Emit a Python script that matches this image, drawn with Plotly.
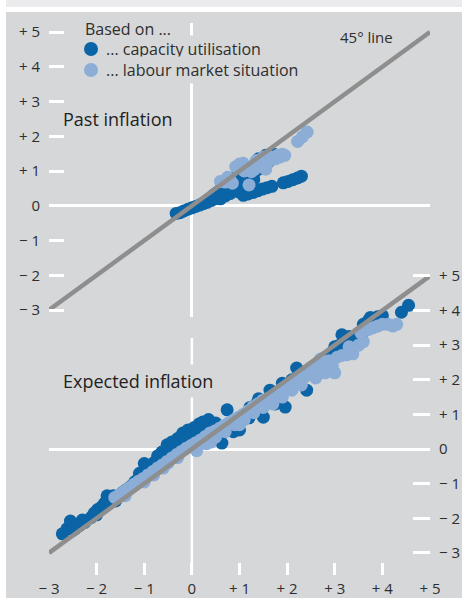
import plotly.graph_objects as go

# ---- data -------------------------------------------------------------
tick_vals = [-3, -2, -1, 0, 1, 2, 3, 4, 5]
tick_text = ["\u2212 3", "\u2212 2", "\u2212 1", "0", "+ 1", "+ 2", "+ 3", "+ 4", "+ 5"]

diag_x = [-3, 5]
diag_y = [-3, 5]

# Past inflation, based on capacity utilisation
past_cap_x = [-0.33, -0.25, -0.17, -0.08, 0.0, 0.08, 0.16, 0.24, 0.32, 0.40, 0.48, 0.56,
              0.64, 0.72, 0.80, 0.88, 0.45, 0.55, 0.65, 0.75, 0.85, 0.95, 1.05, 1.15,
              1.25, 1.35, 1.45, 1.55, 1.65, 1.72, 1.50, 1.40, 1.30, 1.60,
              1.08, 1.18, 1.28, 1.38, 1.48, 1.58, 1.68, 0.98,
              1.92, 2.02, 2.12, 2.22, 2.30,
              0.50, 0.60, 0.70, 0.80, 0.90, 0.60, 0.70, 0.80, 0.90, 1.00, 1.10, 1.20,
              1.30, 1.15, 1.40, 1.55, 1.70]
past_cap_y = [-0.22, -0.20, -0.15, -0.10, -0.06, -0.02, 0.02, 0.06, 0.10, 0.15, 0.20, 0.26,
              0.32, 0.38, 0.44, 0.52, 0.30, 0.40, 0.48, 0.58, 0.66, 0.75, 0.85, 0.95,
              1.05, 1.15, 1.25, 1.35, 1.42, 1.48, 1.15, 1.05, 0.92, 1.25,
              0.30, 0.34, 0.38, 0.43, 0.48, 0.52, 0.56, 0.40,
              0.66, 0.70, 0.75, 0.80, 0.85,
              0.35, 0.45, 0.55, 0.70, 0.80, 0.20, 0.28, 0.35, 0.45, 0.55, 0.70, 0.80,
              0.75, 1.10, 1.35, 1.45, 1.38]

# Past inflation, based on labour market situation
past_lab_x = [0.60, 0.70, 0.80, 0.92, 1.00, 1.08, 1.20, 1.25, 1.32, 1.40, 1.48, 1.58,
              1.75, 1.85, 1.90, 2.22, 2.32, 2.42,
              0.75, 0.85, 1.10, 1.20, 1.35, 1.50, 1.65, 1.80, 1.95, 1.55]
past_lab_y = [0.70, 0.68, 0.75, 1.12, 1.20, 1.22, 0.60, 0.98, 1.05, 1.20, 1.30, 1.22,
              1.35, 1.40, 1.48, 1.85, 1.98, 2.12,
              0.82, 0.65, 1.00, 1.10, 1.30, 1.40, 1.40, 1.45, 1.45, 1.05]

# Expected inflation, based on capacity utilisation
exp_cap_x = [-2.72, -2.62, -2.55, -2.45, -2.35, -2.25, -2.12, -2.05, -1.98, -1.90, -1.82,
             -1.78, -1.70, -1.60, -1.50, -1.40, -1.30, -1.20, -1.10, -1.00, -0.95, -0.85,
             -0.72, -0.63, -0.52, -0.42, -0.30, -0.19, -0.08, 0.05, 0.15, 0.23, 0.35,
             0.44, 0.63, 0.74, 0.87, 1.00, 1.10, 1.22, 1.35, 1.50, 1.64, 1.80, 1.96,
             2.10, 2.20, 2.30, 2.41, 2.55, 2.70, 2.85, 3.00, 3.10, 3.20, 3.30, 3.40,
             3.50, 3.60, 3.70, 3.80, 3.90, 4.00, 4.40, 4.55,
             -2.50, -2.30, -2.00, -1.85, -1.65, -1.45, -1.25, -1.15, -0.80, -0.60,
             -0.45, -0.35, -0.15, 0.00, 0.10, 0.30, 0.50, 0.55, 0.95, 1.20, 1.40,
             1.60, 1.75, 1.90, 2.05, 2.35, 2.60, 2.80, 2.95, 3.15, 3.30, 3.45, 3.55,
             3.65, 3.75, 3.95]
exp_cap_y = [-2.45, -2.30, -2.08, -2.30, -2.20, -2.12, -1.98, -1.85, -1.75, -1.68, -1.55,
             -1.35, -1.45, -1.50, -1.32, -1.20, -1.10, -0.95, -0.70, -0.42, -0.60, -0.55,
             -0.20, -0.09, 0.12, 0.20, 0.30, 0.46, 0.55, 0.62, 0.72, 0.78, 0.85,
             0.64, 0.17, 1.13, 0.50, 0.55, 1.00, 1.20, 1.30, 0.92, 1.70, 1.60, 1.21,
             2.00, 2.34, 2.10, 1.70, 2.30, 2.50, 2.60, 2.95, 3.00, 3.10, 3.25, 3.20,
             3.35, 3.60, 3.70, 3.75, 3.82, 3.85, 3.95, 4.15,
             -2.35, -2.05, -1.90, -1.60, -1.35, -1.25, -1.05, -0.90, -0.40, -0.25,
             -0.05, 0.10, 0.30, 0.45, 0.55, 0.60, 0.75, 0.35, 0.75, 0.90, 1.45,
             1.45, 1.30, 1.90, 1.75, 2.20, 2.10, 2.40, 2.75, 3.30, 2.95, 3.10, 3.25,
             3.55, 3.80, 3.78]

# Expected inflation, based on labour market situation
exp_lab_x = [-1.62, -1.52, -1.42, -1.32, -1.22, -1.12, -1.02, -0.92, -0.82, -0.72, -0.62,
             -0.52, -0.42, -0.32, -0.22, -0.12, -0.02, 0.08, 0.18, 0.28, 0.38, 0.48,
             0.58, 0.68, 0.78, 0.88, 0.98, 1.08, 1.18, 1.28, 1.38, 1.48, 1.58, 1.68,
             1.78, 1.88, 1.98, 2.08, 2.18, 2.28, 2.38, 2.48, 2.58, 2.68, 2.78, 2.88,
             2.95, 3.05, 3.15, 3.25, 3.38, 3.50, 3.60, 3.70, 3.80, 3.90, 4.00, 4.12,
             4.22, 0.40, 1.00, -0.50, 2.60, 2.80, 1.70,
             0.10, 0.30, 0.50, 0.70, 0.90, 1.10, 1.30, 1.50, 1.90, 2.10, 2.30, 2.50,
             2.70, -1.00, -0.80, -0.60, -0.30, -1.40, 3.00, 3.30, 3.55, 4.30]
exp_lab_y = [-1.40, -1.32, -1.22, -1.12, -1.02, -0.93, -0.85, -0.75, -0.65, -0.55, -0.46,
             -0.36, -0.26, -0.16, -0.07, 0.02, 0.10, 0.18, 0.26, 0.36, 0.46, 0.52,
             0.60, 0.68, 0.76, 0.84, 0.92, 1.00, 1.10, 1.22, 1.30, 1.40, 1.45, 1.50,
             1.58, 1.65, 1.78, 1.90, 2.00, 2.05, 2.10, 2.18, 2.30, 2.38, 2.48, 2.55,
             2.40, 2.65, 2.70, 2.72, 2.75, 3.00, 3.10, 3.45, 3.50, 3.55, 3.60, 3.60,
             3.55, 0.20, 0.70, -0.40, 2.05, 2.20, 1.30,
             -0.05, 0.15, 0.35, 0.50, 0.70, 0.85, 1.05, 1.20, 1.50, 1.70, 1.85, 2.35,
             2.60, -0.95, -0.75, -0.55, -0.25, -1.35, 2.20, 2.95, 3.35, 3.60]

# ---- styling ------------------------------------------------------------
W, H = 462, 598
PANEL = "#d6d7d9"
DARK = "#0a64a6"
LIGHT = "#8badd6"
DIAG = "#8e8e8e"
TXT = "#2e2e2e"
FONT = "Open Sans"


def fx(px):
    return px / W


def fy(py):
    return 1 - py / H


fig = go.Figure()

marker_size = 13
fig.add_trace(go.Scatter(x=past_cap_x, y=past_cap_y, mode="markers", xaxis="x", yaxis="y",
                         marker=dict(size=marker_size, color=DARK), showlegend=False))
fig.add_trace(go.Scatter(x=past_lab_x, y=past_lab_y, mode="markers", xaxis="x", yaxis="y",
                         marker=dict(size=marker_size, color=LIGHT), showlegend=False))
fig.add_trace(go.Scatter(x=diag_x, y=diag_y, mode="lines", xaxis="x", yaxis="y",
                         line=dict(color=DIAG, width=4.5), showlegend=False))

fig.add_trace(go.Scatter(x=exp_cap_x, y=exp_cap_y, mode="markers", xaxis="x2", yaxis="y2",
                         marker=dict(size=marker_size, color=DARK), showlegend=False))
fig.add_trace(go.Scatter(x=exp_lab_x, y=exp_lab_y, mode="markers", xaxis="x2", yaxis="y2",
                         marker=dict(size=marker_size, color=LIGHT), showlegend=False))
fig.add_trace(go.Scatter(x=diag_x, y=diag_y, mode="lines", xaxis="x2", yaxis="y2",
                         line=dict(color=DIAG, width=4.5), showlegend=False))

# pixel geometry of the two panels
x_dom = [fx(49), fx(430)]
top_zero, top_unit = 205.75, 34.75
bot_zero, bot_unit = 449.0, 34.625
top_px = (23, 317)
bot_px = (274, 575)

tickfont = dict(family=FONT, size=15, color=TXT)

fig.update_layout(
    width=W, height=H,
    margin=dict(l=0, r=0, t=0, b=0),
    paper_bgcolor=PANEL,
    plot_bgcolor="rgba(0,0,0,0)",
    font=dict(family=FONT, color=TXT),
    showlegend=False,
    xaxis=dict(domain=x_dom, range=[-3, 5], anchor="y", showticklabels=False, ticks="",
               showgrid=False, zeroline=True, zerolinecolor="white", zerolinewidth=2.5,
               showline=False, automargin=False),
    yaxis=dict(domain=[fy(top_px[1]), fy(top_px[0])],
               range=[(top_zero - top_px[1]) / top_unit, (top_zero - top_px[0]) / top_unit],
               anchor="x", side="left", tickvals=tick_vals, ticktext=tick_text,
               ticks="inside", ticklen=15, tickwidth=3, tickcolor="white",
               tickfont=tickfont, ticklabelstandoff=8, automargin=False,
               showgrid=False, zeroline=True, zerolinecolor="white", zerolinewidth=3,
               showline=False),
    xaxis2=dict(domain=x_dom, range=[-3, 5], anchor="y2", tickvals=tick_vals,
                ticktext=tick_text, ticks="inside", ticklen=12, tickwidth=3,
                tickcolor="white", tickfont=tickfont, ticklabelstandoff=3,
                showgrid=False, zeroline=False, showline=False, automargin=False),
    yaxis2=dict(domain=[fy(bot_px[1]), fy(bot_px[0])],
                range=[(bot_zero - bot_px[1]) / bot_unit, (bot_zero - bot_px[0]) / bot_unit],
                anchor="x2", side="right", tickvals=tick_vals, ticktext=tick_text,
                ticks="inside", ticklen=17, tickwidth=3, tickcolor="white",
                tickfont=tickfont, ticklabelstandoff=8, automargin=False,
                showgrid=False, zeroline=True, zerolinecolor="white", zerolinewidth=3,
                showline=False),
)

shapes = [
    # white frame on the left and the light strip above the panel
    dict(type="rect", xref="paper", yref="paper", x0=0, x1=fx(6), y0=0, y1=1,
         fillcolor="white", line=dict(width=0), layer="below"),
    dict(type="rect", xref="paper", yref="paper", x0=fx(6), x1=1, y0=fy(12), y1=1,
         fillcolor="white", line=dict(width=0), layer="below"),
    dict(type="rect", xref="paper", yref="paper", x0=fx(6), x1=1, y0=fy(7), y1=1,
         fillcolor="#ebebed", line=dict(width=0), layer="below"),
    # vertical zero line of the lower panel
    dict(type="line", xref="x2", yref="y2", x0=0, x1=0,
         y0=(bot_zero - 338) / bot_unit, y1=(bot_zero - 575) / bot_unit,
         line=dict(color="white", width=2.5), layer="below"),
    # legend symbols
    dict(type="circle", xref="paper", yref="paper", xsizemode="pixel", ysizemode="pixel",
         xanchor=fx(91), yanchor=fy(49), x0=-7, x1=7, y0=-7, y1=7,
         fillcolor=DARK, line=dict(width=0)),
    dict(type="circle", xref="paper", yref="paper", xsizemode="pixel", ysizemode="pixel",
         xanchor=fx(91), yanchor=fy(70), x0=-7, x1=7, y0=-7, y1=7,
         fillcolor=LIGHT, line=dict(width=0)),
]
fig.update_layout(shapes=shapes)

ann = [
    dict(text="Based on ...", x=fx(83), y=fy(29), xanchor="left", yanchor="middle",
         font=dict(size=16, color=TXT)),
    dict(text="... capacity utilisation", x=fx(103), y=fy(49), xanchor="left",
         yanchor="middle", font=dict(size=16, color=TXT), bgcolor=PANEL, borderpad=2),
    dict(text="... labour market situation", x=fx(103), y=fy(70), xanchor="left",
         yanchor="middle", font=dict(size=16, color=TXT), bgcolor=PANEL, borderpad=2),
    dict(text="45\u00b0 line", x=fx(395), y=fy(37), xanchor="right", yanchor="middle",
         font=dict(size=15, color=TXT)),
    dict(text="Past inflation", x=fx(61), y=fy(119), xanchor="left", yanchor="middle",
         font=dict(size=18, color="#222222")),
    dict(text="Expected inflation", x=fx(58), y=fy(381), xanchor="left", yanchor="middle",
         font=dict(size=18, color="#222222"), bgcolor=PANEL, borderpad=4),
]
for a in ann:
    a.update(xref="paper", yref="paper", showarrow=False)
fig.update_layout(annotations=ann)

fig.write_html("out.html")
